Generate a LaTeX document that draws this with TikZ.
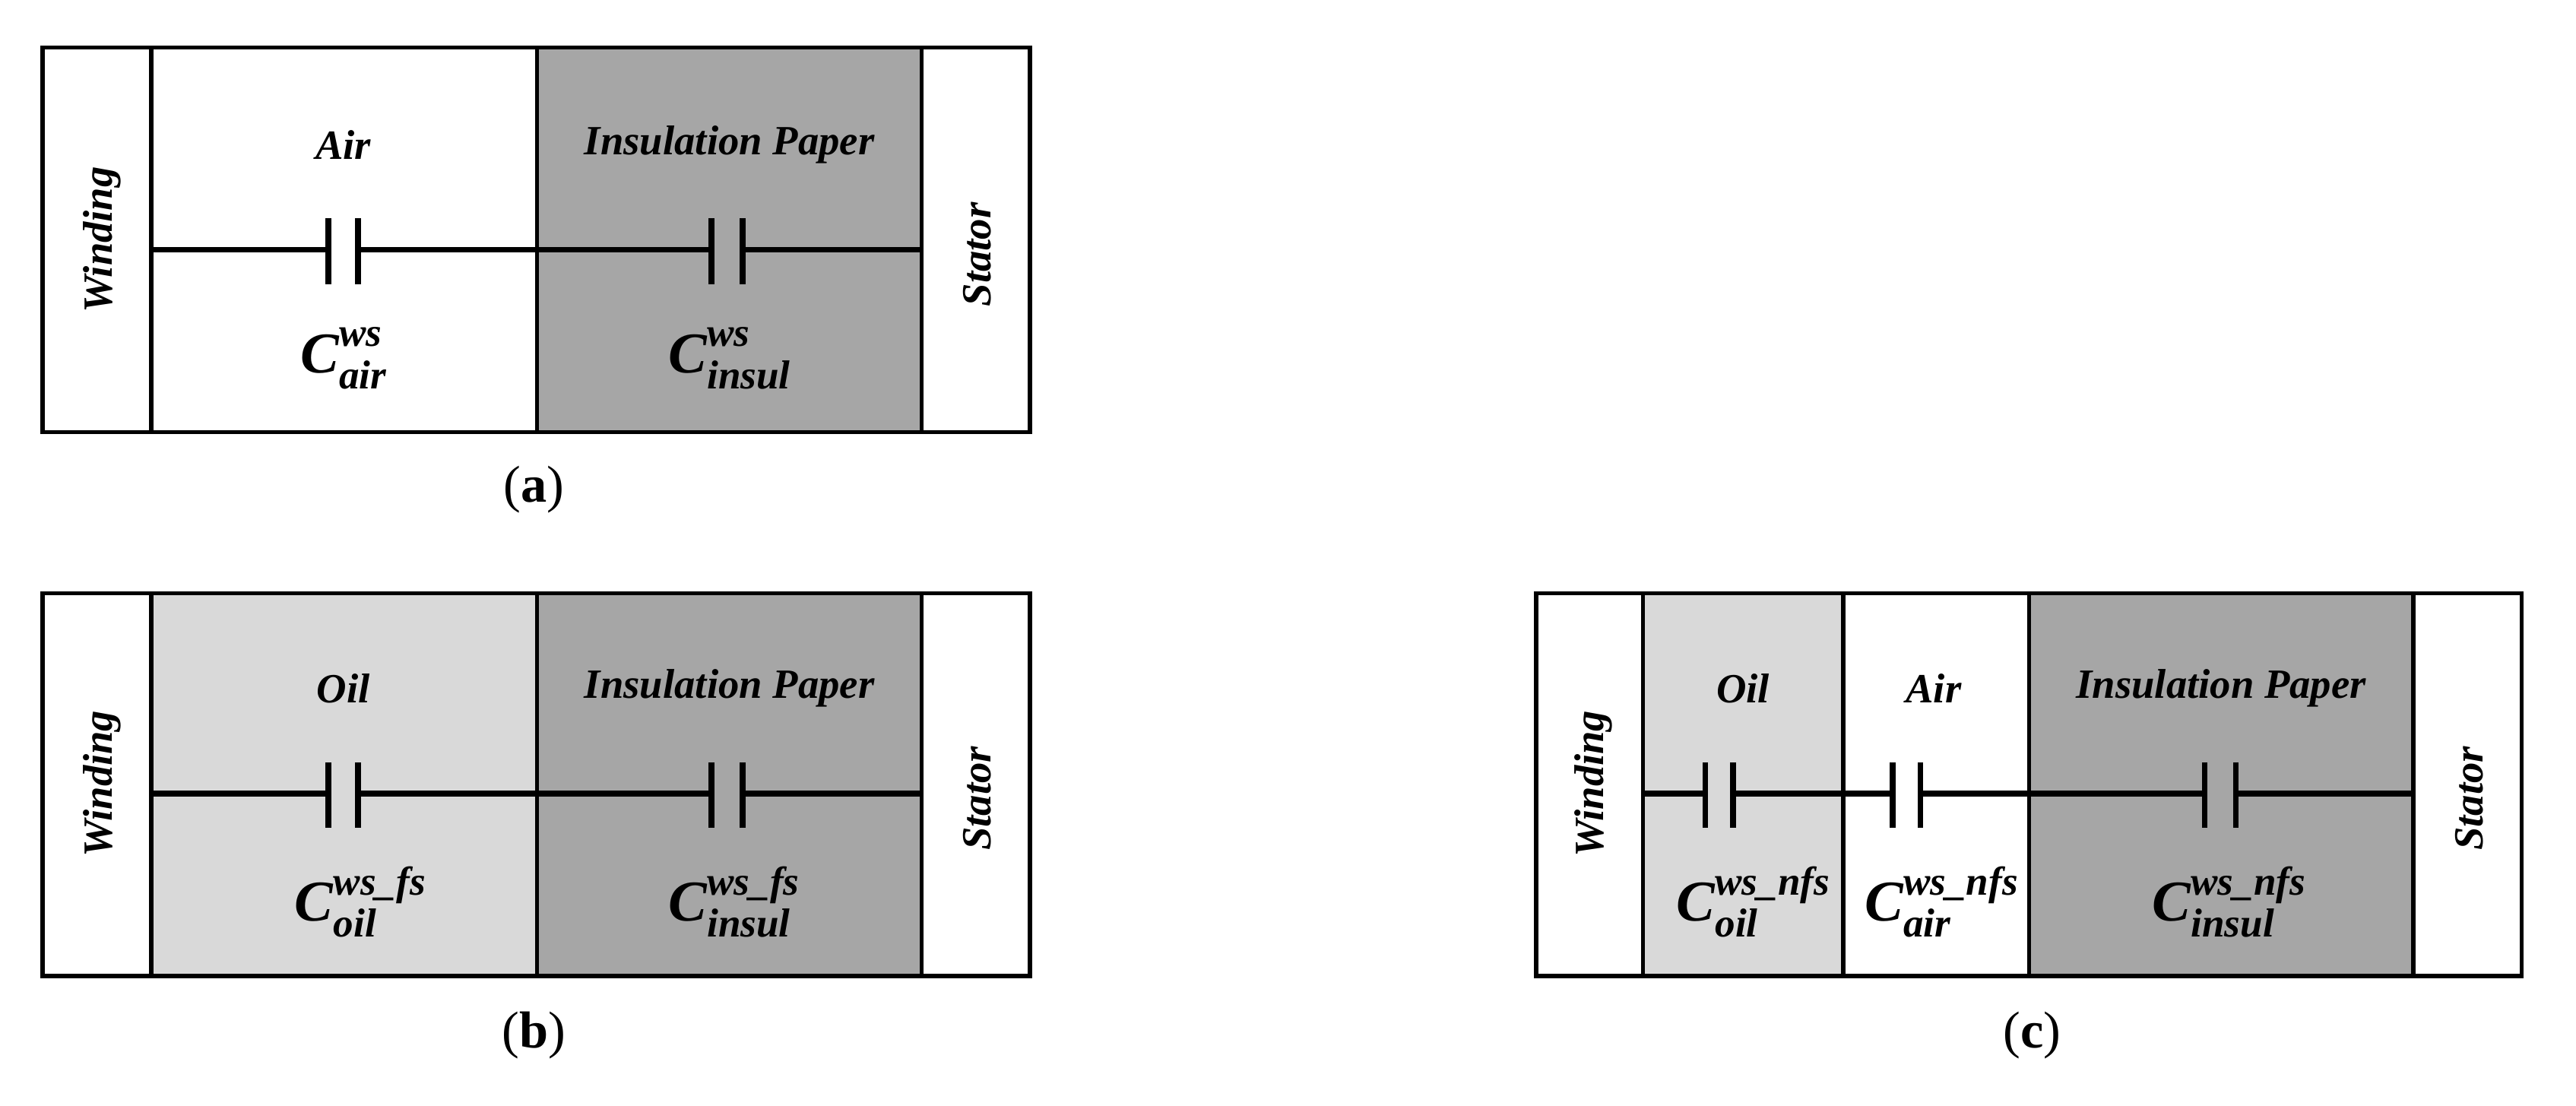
\documentclass[tikz,border=0pt]{standalone}
\usepackage{fontspec}
\setmainfont{Liberation Serif}
\definecolor{dk}{HTML}{A6A6A6}
\definecolor{lt}{HTML}{D9D9D9}
\newcommand\sm{\fontsize{7}{8}\selectfont}
\begin{document}
\begin{tikzpicture}[x=0.1mm,y=-0.1mm,
  lbl/.style={font=\fontsize{7.2}{8}\selectfont\bfseries\itshape},
  clbl/.style={font=\fontsize{10}{11}\selectfont\bfseries\itshape},
  sublbl/.style={font=\fontsize{9}{10}\selectfont},
  wire/.style={line width=0.35mm},
  plate/.style={line width=0.35mm},
  frame/.style={draw=black,line width=0.25mm}]
\useasboundingbox (0,0) rectangle (1568,673);
\newcommand\capac[3]{%
  \draw[plate] (#1,#3-19) -- (#1,#3+21);
  \draw[plate] (#2,#3-19) -- (#2,#3+21);}
% ---- (a)
\fill[dk] (327,29) rectangle (561,263);
\draw[frame] (26,29) rectangle (627,263);
\foreach \x in {92,327,561} \draw[frame] (\x,29) -- (\x,263);
\coordinate (aw) at (92,152); \coordinate (as) at (561,152);
\draw[wire] (aw) -- (200,152) (218,152) -- (433,152) (452,152) -- (as);
\capac{200}{218}{152}\capac{433}{452}{152}
\node[lbl,rotate=90] (awind) at (62,146) {Winding};
\node[lbl,rotate=90] (astat) at (595,155) {Stator};
\node[lbl] (aair) at (209,88) {Air};
\node[lbl] (aip) at (444,88) {Insulation Paper};
\node[clbl] (ac1) at (209,218) {C\rlap{\raisebox{1.0ex}{\sm ws}}\raisebox{-0.6ex}{\sm air}};
\node[clbl] (ac2) at (444,218) {C\rlap{\raisebox{1.0ex}{\sm ws}}\raisebox{-0.6ex}{\sm insul}};
\node[sublbl] (capa) at (325,298) {(\textbf{a})};
% ---- (b)
\fill[lt] (92,361) rectangle (327,594);
\fill[dk] (327,361) rectangle (561,594);
\draw[frame] (26,361) rectangle (627,594);
\foreach \x in {92,327,561} \draw[frame] (\x,361) -- (\x,594);
\coordinate (bw) at (92,483); \coordinate (bs) at (561,483);
\draw[wire] (bw) -- (200,483) (218,483) -- (433,483) (452,483) -- (bs);
\capac{200}{218}{483}\capac{433}{452}{483}
\node[lbl,rotate=90] (bwind) at (62,477) {Winding};
\node[lbl,rotate=90] (bstat) at (595,486) {Stator};
\node[lbl] (boil) at (209,419) {Oil};
\node[lbl] (bip) at (444,419) {Insulation Paper};
\node[clbl] (bc1) at (209,549) {C\rlap{\raisebox{1.0ex}{\sm ws\_fs}}\raisebox{-0.6ex}{\sm oil}\hphantom{\sm s}};
\node[clbl] (bc2) at (444,549) {C\rlap{\raisebox{1.0ex}{\sm ws\_fs}}\raisebox{-0.6ex}{\sm insul}};
\node[sublbl] (capb) at (325,630) {(\textbf{b})};
% ---- (c)
\fill[lt] (1000,361) rectangle (1122,594);
\fill[dk] (1235,361) rectangle (1469,594);
\draw[frame] (935,361) rectangle (1535,594);
\foreach \x in {1000,1122,1235,1469} \draw[frame] (\x,361) -- (\x,594);
\coordinate (cw) at (1000,483); \coordinate (cs) at (1469,483);
\draw[wire] (cw) -- (1038,483) (1055,483) -- (1152,483) (1169,483) -- (1342,483) (1361,483) -- (cs);
\capac{1038}{1055}{483}\capac{1152}{1169}{483}\capac{1342}{1361}{483}
\node[lbl,rotate=90] (cwind) at (970,477) {Winding};
\node[lbl,rotate=90] (cstat) at (1503,486) {Stator};
\node[lbl] (coil) at (1061,419) {Oil};
\node[lbl] (cair) at (1177,419) {Air};
\node[lbl] (cip) at (1352,419) {Insulation Paper};
\node[clbl] (cc1) at (1061,549) {C\rlap{\raisebox{1.0ex}{\sm ws\_nfs}}\raisebox{-0.6ex}{\sm oil}\hphantom{\sm nfs}};
\node[clbl] (cc2) at (1177,549) {C\rlap{\raisebox{1.0ex}{\sm ws\_nfs}}\raisebox{-0.6ex}{\sm air}\hphantom{\sm nfs}};
\node[clbl] (cc3) at (1352,549) {C\rlap{\raisebox{1.0ex}{\sm ws\_nfs}}\raisebox{-0.6ex}{\sm insul}\hphantom{\sm s}};
\node[sublbl] (capc) at (1237,630) {(\textbf{c})};
\end{tikzpicture}
\end{document}
